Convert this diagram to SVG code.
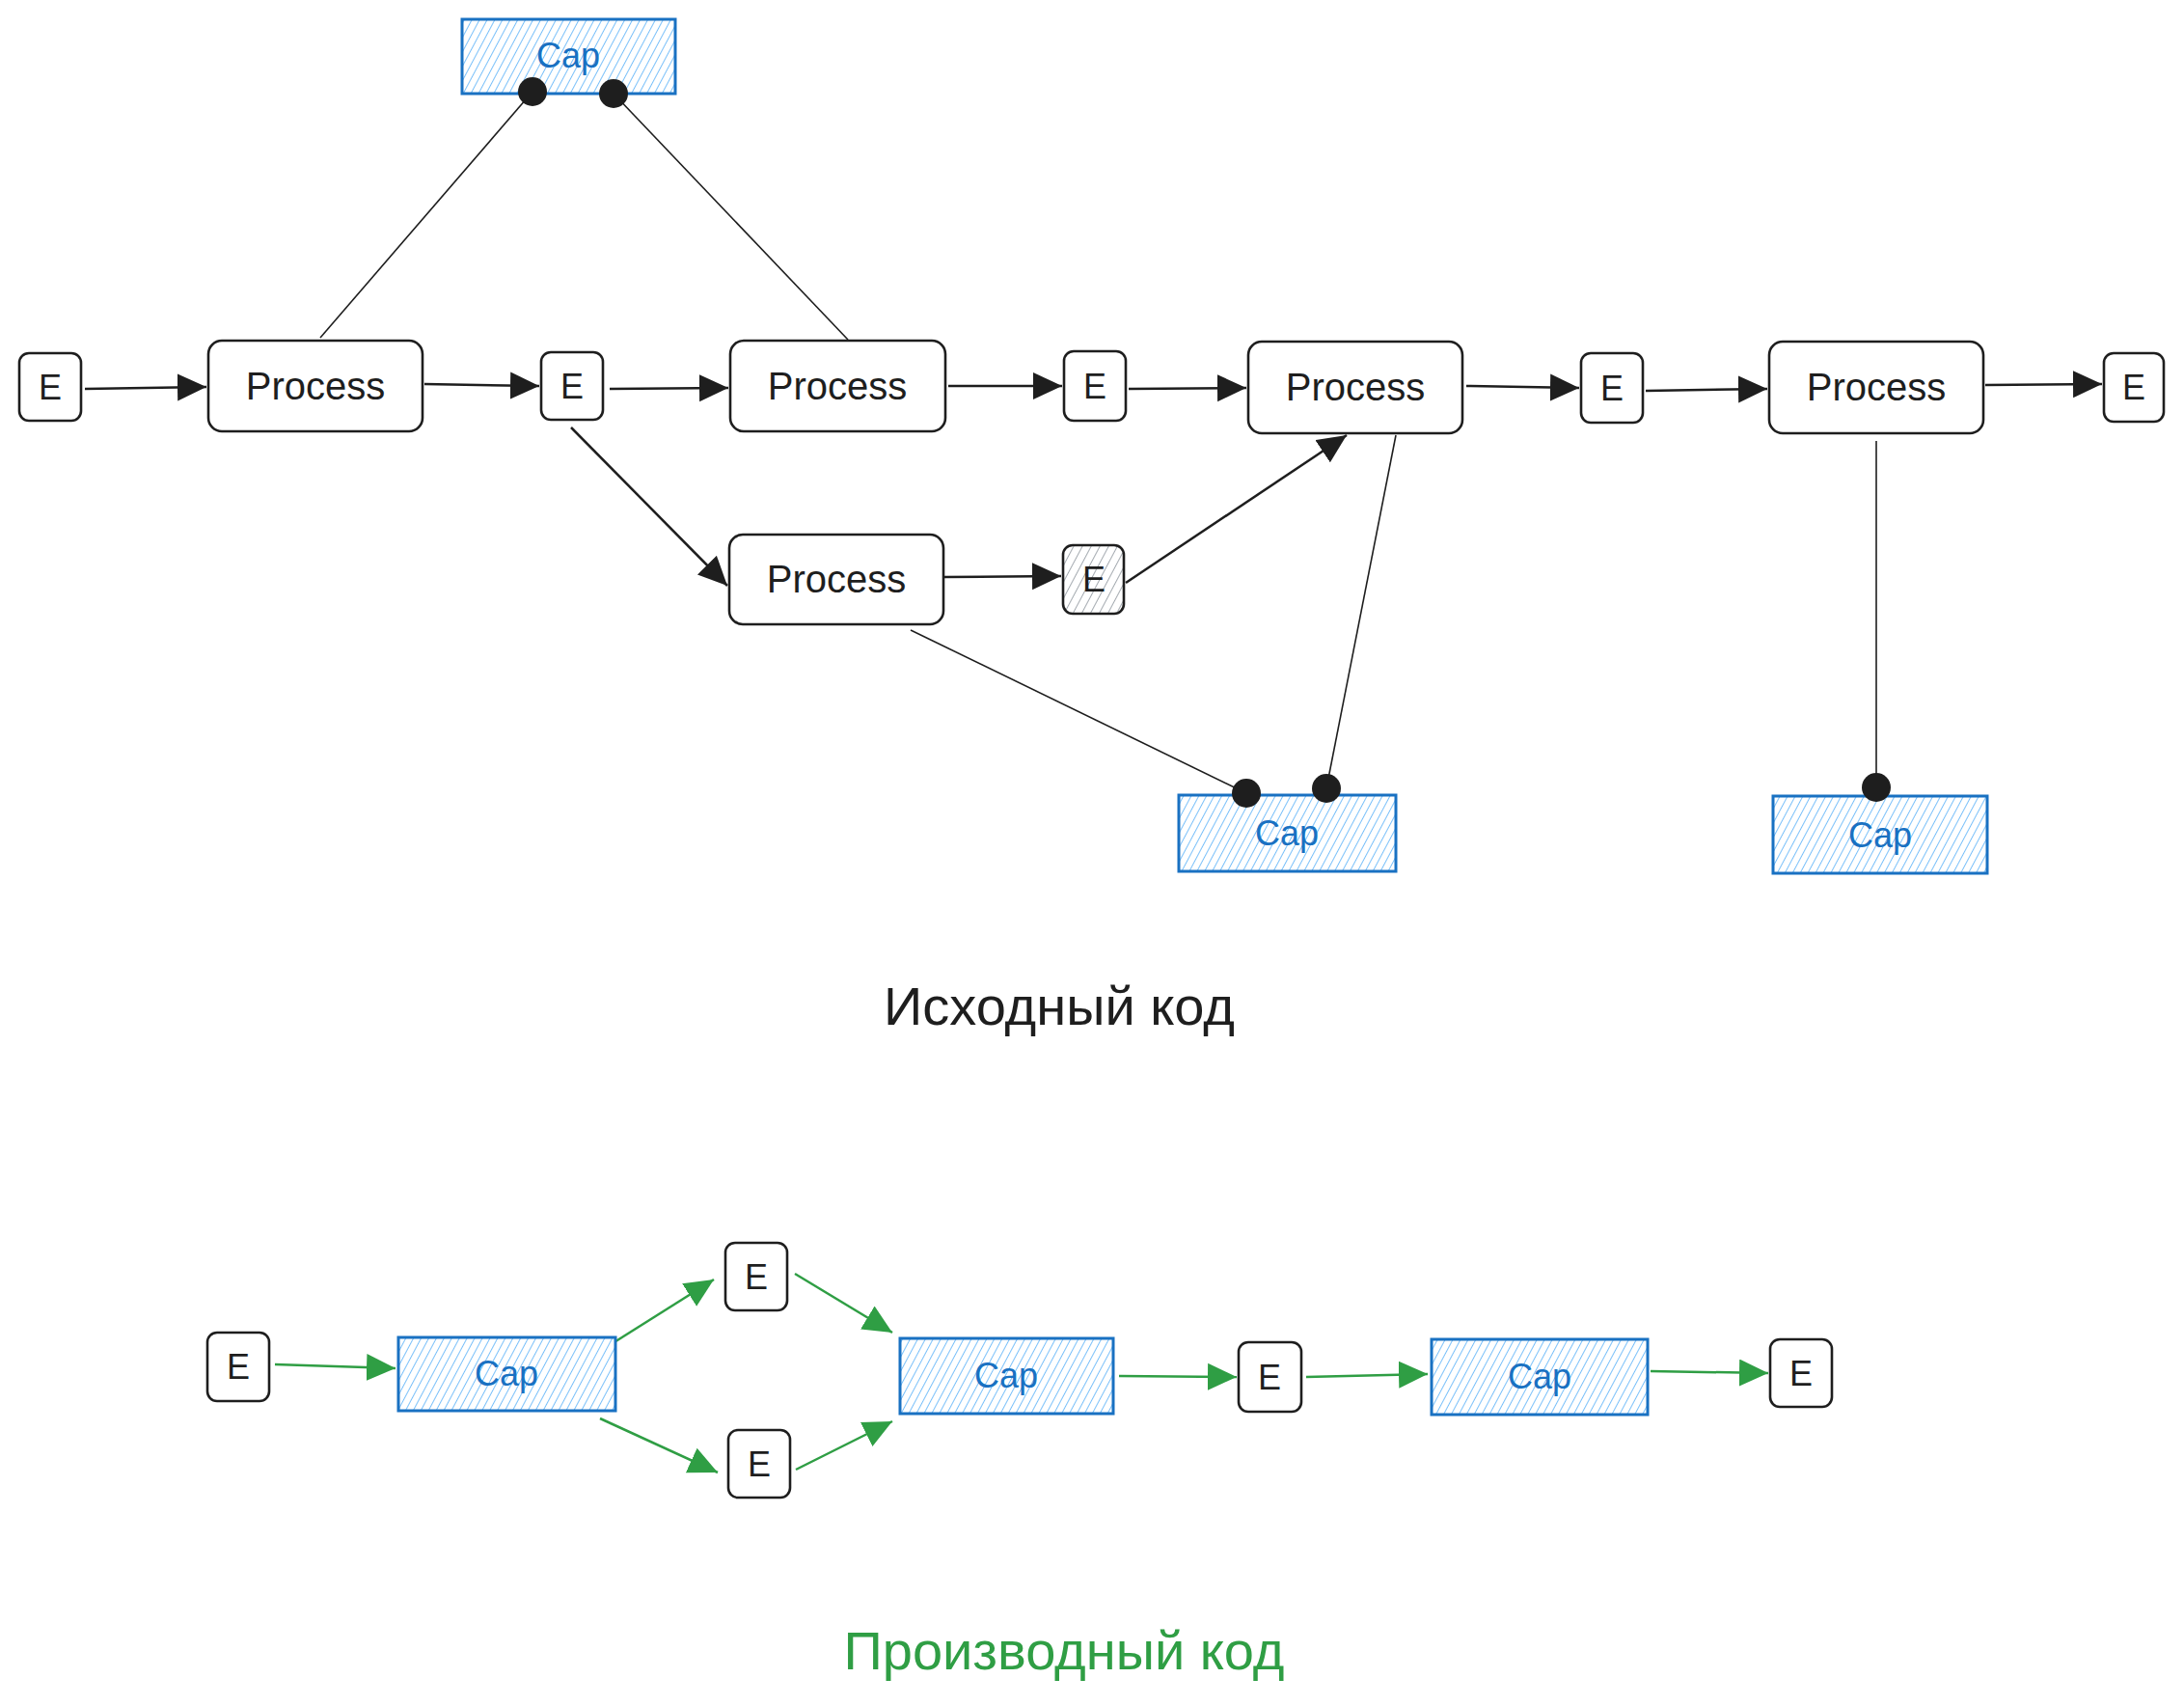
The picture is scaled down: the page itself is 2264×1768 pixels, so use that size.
<svg xmlns="http://www.w3.org/2000/svg" width="2264" height="1768" viewBox="0 0 2264 1768">
<style>
.box{fill:#ffffff;stroke:#1e1e1e;stroke-width:2.6}
.hE{fill:url(#grayHatch);stroke:#1e1e1e;stroke-width:2.6}
.cap{fill:url(#blueHatch);stroke:#1971c2;stroke-width:3}
.t{font-family:"Liberation Sans",Arial,sans-serif;fill:#1e1e1e;text-anchor:middle}
.tp{font-size:40px}
.te{font-size:36px}
.tc{font-family:"Liberation Sans",Arial,sans-serif;fill:#1971c2;text-anchor:middle;font-size:36px}
.arr{stroke:#1e1e1e;stroke-width:2.5;fill:none;marker-end:url(#ah)}
.arrg{stroke:#2f9e44;stroke-width:2.5;fill:none;marker-end:url(#ahg)}
.ln{stroke:#1e1e1e;stroke-width:1.6;fill:none}
.dot{fill:#1e1e1e}
.title{font-family:"Liberation Sans",Arial,sans-serif;font-size:56px;text-anchor:middle}
</style>
<defs>
<pattern id="blueHatch" patternUnits="userSpaceOnUse" width="7" height="7" patternTransform="rotate(28)">
<rect width="7" height="7" fill="#ffffff"/>
<line x1="0" y1="0" x2="0" y2="7" stroke="#4dabf7" stroke-width="1.5"/>
</pattern>
<pattern id="grayHatch" patternUnits="userSpaceOnUse" width="8" height="8" patternTransform="rotate(28)">
<rect width="8" height="8" fill="#ffffff"/>
<line x1="0" y1="0" x2="0" y2="8" stroke="#868e96" stroke-width="1.5"/>
</pattern>
<marker id="ah" markerUnits="userSpaceOnUse" markerWidth="32" markerHeight="30" refX="30" refY="14" orient="auto">
<path d="M0,0 L30,14 L0,28 Z" fill="#1e1e1e"/>
</marker>
<marker id="ahg" markerUnits="userSpaceOnUse" markerWidth="32" markerHeight="30" refX="30" refY="14" orient="auto">
<path d="M0,0 L30,14 L0,28 Z" fill="#2f9e44"/>
</marker>
</defs>
<rect width="2264" height="1768" fill="#ffffff"/>

<g id="connectors">
<line class="arr" x1="88" y1="403" x2="214" y2="401"/>
<line class="arr" x1="440" y1="398" x2="559" y2="400"/>
<line class="arr" x1="632" y1="403" x2="755" y2="402"/>
<line class="arr" x1="983" y1="400" x2="1101" y2="400"/>
<line class="arr" x1="1170" y1="403" x2="1292" y2="402"/>
<line class="arr" x1="1520" y1="400" x2="1637" y2="402"/>
<line class="arr" x1="1706" y1="405" x2="1832" y2="403"/>
<line class="arr" x1="2058" y1="399" x2="2179" y2="398"/>
<line class="arr" x1="592" y1="443" x2="754" y2="607"/>
<line class="arr" x1="979" y1="598" x2="1100" y2="597"/>
<line class="arr" x1="1167" y1="604" x2="1396" y2="451"/>
<line class="ln" x1="332" y1="350" x2="552" y2="95"/>
<line class="ln" x1="879" y1="352" x2="636" y2="97"/>
<line class="ln" x1="944" y1="653" x2="1292" y2="822"/>
<line class="ln" x1="1447" y1="451" x2="1375" y2="817"/>
<line class="ln" x1="1945" y1="457" x2="1945" y2="816"/>
<line class="arrg" x1="285" y1="1414" x2="410" y2="1418"/>
<line class="arrg" x1="632" y1="1394" x2="740" y2="1326"/>
<line class="arrg" x1="622" y1="1470" x2="744" y2="1526"/>
<line class="arrg" x1="824" y1="1320" x2="925" y2="1381"/>
<line class="arrg" x1="825" y1="1523" x2="925" y2="1473"/>
<line class="arrg" x1="1160" y1="1426" x2="1282" y2="1427"/>
<line class="arrg" x1="1354" y1="1427" x2="1480" y2="1424"/>
<line class="arrg" x1="1711" y1="1421" x2="1833" y2="1423"/>
</g>

<g id="cap-top"><rect class="cap" x="479" y="20" width="221" height="77"/><text class="tc" x="589" y="70">Cap</text></g>
<g id="e1"><rect class="box" x="20" y="366" width="64" height="70" rx="10"/><text class="t te" x="52" y="414">E</text></g>
<g id="process1"><rect class="box" x="216" y="353" width="222" height="94" rx="14"/><text class="t tp" x="327" y="414">Process</text></g>
<g id="e2"><rect class="box" x="561" y="365" width="64" height="70" rx="10"/><text class="t te" x="593" y="413">E</text></g>
<g id="process2"><rect class="box" x="757" y="353" width="223" height="94" rx="14"/><text class="t tp" x="868" y="414">Process</text></g>
<g id="e3"><rect class="box" x="1103" y="364" width="64" height="72" rx="10"/><text class="t te" x="1135" y="413">E</text></g>
<g id="process4"><rect class="box" x="1294" y="354" width="222" height="95" rx="14"/><text class="t tp" x="1405" y="415">Process</text></g>
<g id="e4"><rect class="box" x="1639" y="366" width="64" height="72" rx="10"/><text class="t te" x="1671" y="415">E</text></g>
<g id="process5"><rect class="box" x="1834" y="354" width="222" height="95" rx="14"/><text class="t tp" x="1945" y="415">Process</text></g>
<g id="e5"><rect class="box" x="2181" y="366" width="62" height="71" rx="10"/><text class="t te" x="2212" y="414">E</text></g>
<g id="process3"><rect class="box" x="756" y="554" width="222" height="93" rx="14"/><text class="t tp" x="867" y="614">Process</text></g>
<g id="e-hatched"><rect class="hE" x="1102" y="565" width="63" height="71" rx="10"/><text class="t te" x="1134" y="613">E</text></g>
<g id="cap1"><rect class="cap" x="1222" y="824" width="225" height="79"/><text class="tc" x="1334" y="876">Cap</text></g>
<g id="cap2"><rect class="cap" x="1838" y="825" width="222" height="80"/><text class="tc" x="1949" y="878">Cap</text></g>

<g id="dots">
<circle class="dot" cx="552" cy="95" r="15"/>
<circle class="dot" cx="636" cy="97" r="15"/>
<circle class="dot" cx="1292" cy="822" r="15"/>
<circle class="dot" cx="1375" cy="817" r="15"/>
<circle class="dot" cx="1945" cy="816" r="15"/>
</g>

<g id="title-source"><text class="title" x="1098" y="1062" fill="#1e1e1e">Исходный код</text></g>

<g id="ea"><rect class="box" x="215" y="1381" width="64" height="71" rx="10"/><text class="t te" x="247" y="1429">E</text></g>
<g id="cap-a"><rect class="cap" x="413" y="1386" width="225" height="76"/><text class="tc" x="525" y="1436">Cap</text></g>
<g id="eb"><rect class="box" x="752" y="1288" width="64" height="70" rx="10"/><text class="t te" x="784" y="1336">E</text></g>
<g id="ec"><rect class="box" x="755" y="1482" width="64" height="70" rx="10"/><text class="t te" x="787" y="1530">E</text></g>
<g id="cap-b"><rect class="cap" x="933" y="1387" width="221" height="78"/><text class="tc" x="1043" y="1438">Cap</text></g>
<g id="ed"><rect class="box" x="1284" y="1391" width="65" height="72" rx="10"/><text class="t te" x="1316" y="1440">E</text></g>
<g id="cap-c"><rect class="cap" x="1484" y="1388" width="224" height="78"/><text class="tc" x="1596" y="1439">Cap</text></g>
<g id="ee"><rect class="box" x="1835" y="1388" width="64" height="70" rx="10"/><text class="t te" x="1867" y="1436">E</text></g>

<g id="title-derived"><text class="title" x="1103" y="1730" fill="#2f9e44">Производный код</text></g>
</svg>
